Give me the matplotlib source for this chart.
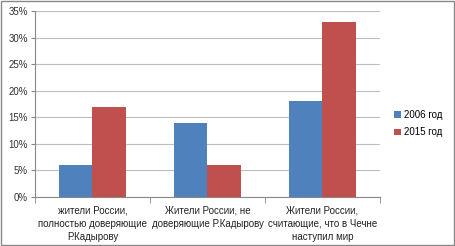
import matplotlib.pyplot as plt
import numpy as np
from matplotlib.patches import Rectangle

categories = ['жители России,\nполностью доверяющие\nР.Кадырову',
              'Жители России, не\nдоверяющие Р.Кадырову',
              'Жители России,\nсчитающие, что в Чечне\nнаступил мир']
series_names = ['2006 год', '2015 год']
values_2006 = [6, 14, 18]
values_2015 = [17, 6, 33]
colors = ['#4F81BD', '#C0504D']

plt.rcParams['font.family'] = ['Liberation Sans', 'DejaVu Sans']

fig = plt.figure(figsize=(4.55, 2.46), dpi=100)
ax = fig.add_axes([35 / 455, 1 - 197 / 246, 345 / 455, 186 / 246])

x = np.arange(len(categories))
w = 0.287
ax.bar(x - w / 2, values_2006, w, color=colors[0], label=series_names[0], zorder=3)
ax.bar(x + w / 2, values_2015, w, color=colors[1], label=series_names[1], zorder=3)

ax.set_xlim(-0.5, 2.5)
ax.set_ylim(0, 35)
ax.set_yticks(range(0, 36, 5))
ax.set_yticklabels([f'{v}%' for v in range(0, 36, 5)], fontsize=7, color='#333333')
ax.yaxis.grid(True, color='#BEBEBE', linewidth=0.8, zorder=0)
ax.set_xticks(x)
ax.set_xticklabels(categories, fontsize=7, color='#222222', linespacing=1.4)
ax.tick_params(axis='x', length=0, pad=6)
ax.tick_params(axis='y', length=3, color='#888888', pad=2)
ax.set_xticks([-0.5, 0.5, 1.5, 2.5], minor=True)
ax.tick_params(axis='x', which='minor', length=4, color='#888888')

for s in ['top', 'right']:
    ax.spines[s].set_visible(False)
for s in ['left', 'bottom']:
    ax.spines[s].set_color('#888888')
    ax.spines[s].set_linewidth(0.8)

ax.legend(loc='center left', bbox_to_anchor=(1.04, 0.395), frameon=False,
          fontsize=7, handlelength=0.7, handleheight=0.7, handletextpad=0.4,
          labelspacing=0.8, borderpad=0, borderaxespad=0)

fig.patches.append(Rectangle((0.002, 0.004), 0.995, 0.992, transform=fig.transFigure,
                             fill=False, edgecolor='#888888', linewidth=1))

fig.savefig('out.png', dpi=100)
